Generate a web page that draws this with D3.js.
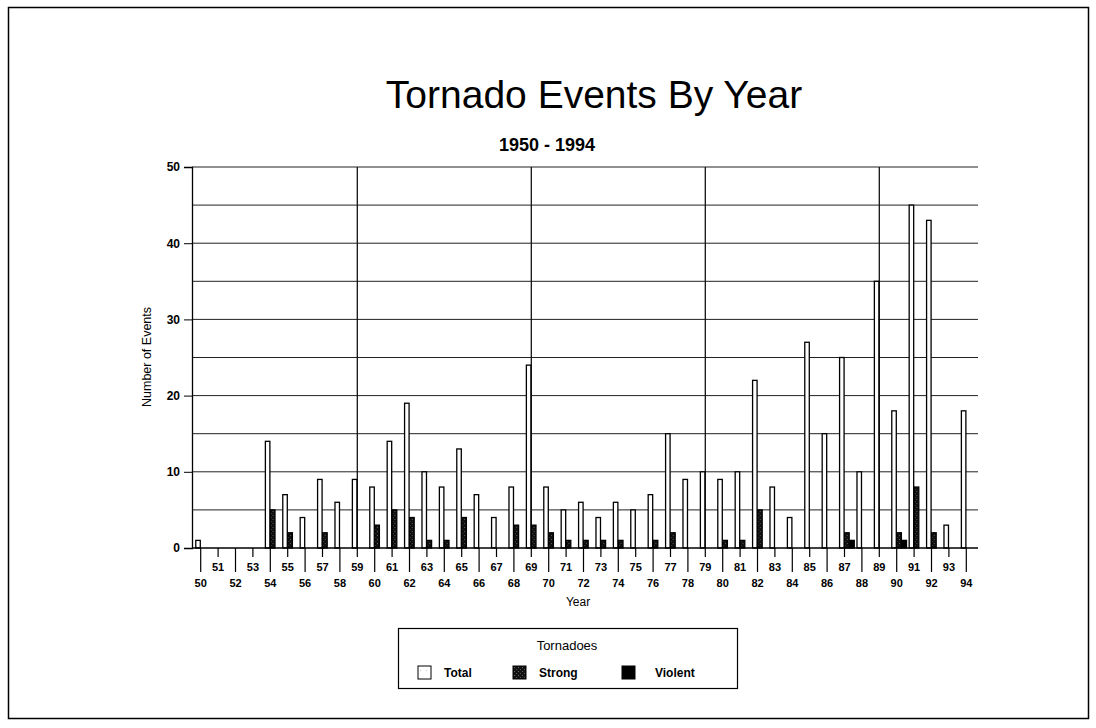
<!DOCTYPE html>
<html>
<head>
<meta charset="utf-8">
<script src="https://cdn.jsdelivr.net/npm/d3@7/dist/d3.min.js"></script>
<style>
  html, body { margin: 0; padding: 0; background: #fff; }
  svg { display: block; font-family: "Liberation Sans", Arial, Helvetica, sans-serif; }
</style>
</head>
<body>
<svg id="chart" width="1096" height="728"></svg>
<script>
// Tornado counts per year, 1950-1994
const years = ["50","51","52","53","54","55","56","57","58","59",
               "60","61","62","63","64","65","66","67","68","69",
               "70","71","72","73","74","75","76","77","78","79",
               "80","81","82","83","84","85","86","87","88","89",
               "90","91","92","93","94"];
const totalEvents = [1,0,0,0,14,7,4,9,6,9,
                     8,14,19,10,8,13,7,4,8,24,
                     8,5,6,4,6,5,7,15,9,10,
                     9,10,22,8,4,27,15,25,10,35,
                     18,45,43,3,18];
const strongEvents = [0,0,0,0,5,2,0,2,0,0,
                      3,5,4,1,1,4,0,0,3,3,
                      2,1,1,1,1,0,1,2,0,0,
                      1,1,5,0,0,0,0,2,0,0,
                      2,8,2,0,0];
const violentEvents = [0,0,0,0,0,0,0,0,0,0,
                       0,0,0,0,0,0,0,0,0,0,
                       0,0,0,0,0,0,0,0,0,0,
                       0,0,0,0,0,0,0,1,0,0,
                       1,0,0,0,0];
const seriesKeys = ["Total", "Strong", "Violent"];
const yTicks = [0, 10, 20, 30, 40, 50];
const gridValues = [5, 10, 15, 20, 25, 30, 35, 40, 45, 50];
const decadeMarks = ["59", "69", "79", "89"];

const rows = years.map((yr, i) => ({
  year: yr,
  values: [
    { key: "Total", v: totalEvents[i] },
    { key: "Strong", v: strongEvents[i] },
    { key: "Violent", v: violentEvents[i] }
  ]
}));

const svg = d3.select("#chart");

// stippled fills
const defs = svg.append("defs");
const strongPat = defs.append("pattern")
  .attr("id", "strongFill").attr("patternUnits", "userSpaceOnUse")
  .attr("width", 4).attr("height", 4);
strongPat.append("rect").attr("width", 4).attr("height", 4).attr("fill", "#111");
strongPat.append("rect").attr("x", 1).attr("y", 1).attr("width", 1).attr("height", 1).attr("fill", "#666");
strongPat.append("rect").attr("x", 3).attr("y", 3).attr("width", 1).attr("height", 1).attr("fill", "#555");
const totalPat = defs.append("pattern")
  .attr("id", "totalFill").attr("patternUnits", "userSpaceOnUse")
  .attr("width", 6).attr("height", 9);
totalPat.append("rect").attr("width", 6).attr("height", 9).attr("fill", "#fff");
totalPat.append("rect").attr("x", 2).attr("y", 4).attr("width", 1).attr("height", 1).attr("fill", "#bbb");

const fills = { Total: "url(#totalFill)", Strong: "url(#strongFill)", Violent: "#000" };

// outer frame
svg.append("rect").attr("x", 8.5).attr("y", 7.5).attr("width", 1080).attr("height", 711)
  .attr("fill", "none").attr("stroke", "#000").attr("stroke-width", 1.5);

// titles
svg.append("text").attr("x", 594).attr("y", 108).attr("text-anchor", "middle")
  .attr("font-size", 39).text("Tornado Events By Year");
svg.append("text").attr("x", 547).attr("y", 151).attr("text-anchor", "middle")
  .attr("font-size", 18).attr("font-weight", "bold").text("1950 - 1994");

// scales
const plotLeft = 192, plotRight = 975, gridRight = 978;
const x0 = d3.scaleBand().domain(years).range([plotLeft, plotRight]).padding(0);
const bw = x0.bandwidth();
const x1 = d3.scaleBand().domain(seriesKeys).range([bw * 0.2, bw * 1.08]).padding(0);
const y = d3.scaleLinear().domain([0, 50]).range([548, 167]);

// horizontal grid
svg.append("g").selectAll("line").data(gridValues).join("line")
  .attr("x1", plotLeft).attr("x2", gridRight)
  .attr("y1", d => y(d)).attr("y2", d => y(d))
  .attr("stroke", "#222").attr("stroke-width", 1);

// vertical grid at decade marks
svg.append("g").selectAll("line").data(decadeMarks).join("line")
  .attr("x1", d => x0(d) + bw / 2).attr("x2", d => x0(d) + bw / 2)
  .attr("y1", y(50)).attr("y2", y(0))
  .attr("stroke", "#111").attr("stroke-width", 1.3);

// bars
const groups = svg.append("g").selectAll("g").data(rows).join("g")
  .attr("transform", d => `translate(${x0(d.year)},0)`);
groups.selectAll("rect").data(d => d.values.filter(s => s.v > 0)).join("rect")
  .attr("x", s => x1(s.key) + 0.3)
  .attr("y", s => y(s.v))
  .attr("width", x1.bandwidth() - 0.6)
  .attr("height", s => y(0) - y(s.v))
  .attr("fill", s => fills[s.key])
  .attr("stroke", "#000").attr("stroke-width", 1.3);

// y axis
const yAxis = svg.append("g").attr("transform", `translate(${plotLeft},0)`)
  .call(d3.axisLeft(y).tickValues(yTicks).tickSize(8).tickPadding(4));
yAxis.select(".domain").attr("stroke", "#000").attr("stroke-width", 1.3);
yAxis.selectAll("text").attr("font-size", 12).attr("font-weight", "bold")
  .attr("font-family", "Liberation Sans, Arial, sans-serif").attr("fill", "#000");

// x axis: alternating short / long ticks, staggered labels
const xAxis = svg.append("g").attr("transform", `translate(0,${y(0)})`)
  .call(d3.axisBottom(x0).tickSize(0));
xAxis.select(".domain").remove();
xAxis.append("line").attr("x1", plotLeft).attr("x2", gridRight)
  .attr("y1", 0).attr("y2", 0).attr("stroke", "#000").attr("stroke-width", 1.5);
xAxis.selectAll(".tick line")
  .attr("y2", (d, i) => i % 2 === 0 ? 24 : 9)
  .attr("stroke", "#000").attr("stroke-width", 1.2);
xAxis.selectAll(".tick text")
  .attr("y", (d, i) => i % 2 === 0 ? 31 : 15)
  .attr("dy", "0.71em")
  .attr("font-size", 11).attr("font-weight", "bold")
  .attr("font-family", "Liberation Sans, Arial, sans-serif").attr("fill", "#000");

// axis titles
svg.append("text").attr("x", 578).attr("y", 606).attr("text-anchor", "middle")
  .attr("font-size", 12).text("Year");
svg.append("text").attr("transform", "translate(151,357) rotate(-90)")
  .attr("text-anchor", "middle").attr("font-size", 12.5).text("Number of Events");

// legend
const legend = svg.append("g");
legend.append("rect").attr("x", 398.5).attr("y", 628.5).attr("width", 339).attr("height", 60)
  .attr("fill", "#fff").attr("stroke", "#000").attr("stroke-width", 1.2);
legend.append("text").attr("x", 567).attr("y", 650).attr("text-anchor", "middle")
  .attr("font-size", 13).text("Tornadoes");
const legendX = { Total: 418, Strong: 513, Violent: 622 };
const items = legend.selectAll("g.item").data(seriesKeys).join("g")
  .attr("class", "item")
  .attr("transform", k => `translate(${legendX[k]},666)`);
items.append("rect").attr("width", 13).attr("height", 13)
  .attr("fill", k => fills[k]).attr("stroke", "#000").attr("stroke-width", 1);
items.append("text").attr("x", k => k === "Violent" ? 33 : 26).attr("y", 11)
  .attr("font-size", 12).attr("font-weight", "bold").text(k => k);
</script>
</body>
</html>
